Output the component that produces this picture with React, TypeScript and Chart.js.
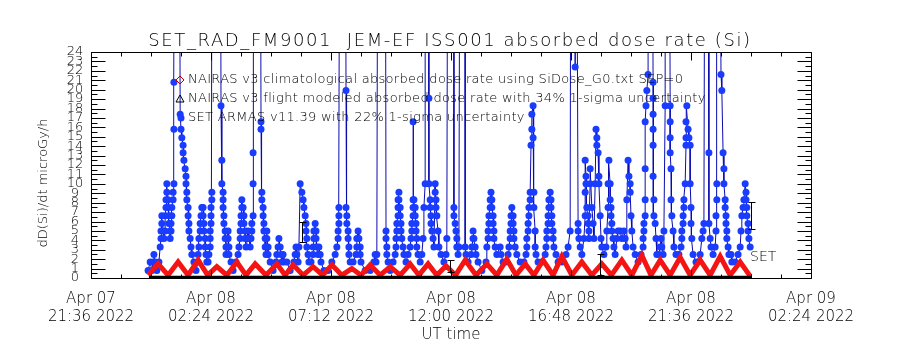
import React, { useEffect, useRef } from 'react';
import { Chart, registerables } from 'chart.js';
Chart.register(...registerables);

const titleText = 'SET_RAD_FM9001  JEM-EF ISS001 absorbed dose rate (Si)';
const yTitle = 'dD(Si)/dt microGy/h';
const xTitle = 'UT time';
const legendLabels = [
  'NAIRAS v3 climatological absorbed dose rate using SiDose_G0.txt SEP=0',
  'NAIRAS v3 flight modeled absorbed dose rate with 34% 1-sigma uncertainty',
  'SET ARMAS v11.39 with 22% 1-sigma uncertainty',
];
const setLabel = 'SET';

// x unit: minutes since 2022-04-08 00:00 UT
const xMin = -144;
const xMax = 1584;
const xTickMinutes = [-144, 144, 432, 720, 1008, 1296, 1584];
const xTickDay = ['Apr 07', 'Apr 08', 'Apr 08', 'Apr 08', 'Apr 08', 'Apr 08', 'Apr 09'];
const xTickTime = ['21:36 2022', '02:24 2022', '07:12 2022', '12:00 2022', '16:48 2022', '21:36 2022', '02:24 2022'];
const yTickValues = [0, 1, 2, 3, 4, 5, 6, 7, 8, 9, 10, 11, 12, 13, 14, 15, 16, 17, 18, 19, 20, 21, 22, 23, 24];

// SET ARMAS dose rate [minute, microGy/h]
const armas: [number, number][] = [
  [-7,0.8],[-2,1.7],[2,0.8],[5,1.7],[7,2.5],[10,1.7],[14,0.8],[19,1.7],[22,3.3],[24,4.2],[24,5.0],[26,5.8],[26,6.6],[29,5.0],[31,4.2],[34,5.0],[34,6.6],[36,7.5],[36,8.3],[38,9.1],[38,10.0],[41,8.3],[41,7.5],[43,6.6],[43,5.8],[46,5.0],[46,4.2],[48,5.0],[48,5.8],[50,6.6],[50,7.5],[53,8.3],[53,9.1],[55,10.0],[55,15.8],[55,20.8],[58,60],[67,60],[70,17.4],[72,15.8],[74,14.9],[77,14.1],[77,13.3],[79,12.5],[82,11.6],[84,10.8],[84,10.0],[86,9.1],[86,8.3],[89,7.5],[89,6.6],[91,5.8],[91,5.0],[94,4.2],[96,3.3],[98,2.5],[103,1.7],[108,0.8],
  [113,1.7],[113,2.5],[115,3.3],[115,4.2],[118,5.0],[118,5.8],[120,6.6],[122,7.5],[125,7.5],[125,6.6],[127,5.8],[127,5.0],[130,4.2],[130,3.3],[132,2.5],[134,1.7],[137,1.7],[139,2.5],[142,3.3],[142,4.2],[142,5.0],[144,5.8],[144,6.6],[144,7.5],[146,8.3],[146,9.1],[147,60],[166,60],[168,18.3],[170,12.5],[170,10.0],[173,9.1],[173,8.3],[173,7.5],[175,6.6],[175,5.8],[178,5.0],[178,4.2],[180,3.3],[180,2.5],[182,3.3],[185,5.0],[185,4.2],[187,3.3],[187,2.5],[192,1.7],[197,0.8],
  [204,1.7],[209,2.5],[211,3.3],[214,4.2],[214,5.0],[216,5.8],[216,6.6],[218,7.5],[218,8.3],[221,7.5],[223,6.6],[223,5.8],[226,5.0],[226,4.2],[228,3.3],[230,4.2],[233,5.0],[235,4.2],[238,3.3],[240,4.2],[242,5.0],[242,5.8],[245,6.6],[245,10.0],[245,13.3],[247,60],[262,60],[264,16.6],[264,15.8],[266,9.1],[266,8.3],[269,7.5],[269,6.6],[271,5.8],[271,5.0],[274,4.2],[274,3.3],[276,2.5],[278,5.0],[278,4.2],[281,3.3],[281,2.5],[286,1.7],[293,0.8],
  [300,1.7],[302,2.5],[305,3.3],[307,4.2],[310,3.3],[312,2.5],[314,1.7],[317,2.5],[319,1.7],[326,1.7],[334,0.8],[343,1.7],[346,2.5],[348,3.3],[350,2.5],[353,1.7],[355,3.3],[358,10.0],[362,9.1],[365,8.3],[367,7.5],[370,6.6],[372,5.8],[372,5.0],[374,4.2],[374,3.3],[377,2.5],[379,1.7],[384,1.7],[389,2.5],[389,3.3],[391,4.2],[391,5.0],[394,5.8],[396,5.0],[396,4.2],[398,3.3],[401,2.5],[403,3.3],[406,2.5],[408,1.7],[415,0.8],[425,0.8],
  [434,1.7],[442,2.5],[446,3.3],[449,4.2],[449,5.0],[451,5.8],[451,6.6],[451,7.5],[454,60],[466,60],[468,19.9],[468,7.5],[470,6.6],[470,5.8],[473,5.0],[473,4.2],[475,3.3],[475,2.5],[478,1.7],[485,1.7],[492,2.5],[494,3.3],[494,4.2],[497,5.0],[499,4.2],[502,3.3],[502,2.5],[504,1.7],[514,0.8],[526,0.8],
  [535,1.7],[538,2.5],[540,1.7],[542,2.5],[545,60],[562,60],[564,5.0],[564,4.2],[566,3.3],[566,2.5],[569,1.7],[574,0.8],[581,1.7],[586,2.5],[588,3.3],[588,4.2],[590,5.0],[590,5.8],[593,6.6],[593,7.5],[593,8.3],[595,9.1],[595,8.3],[598,7.5],[598,6.6],[600,5.8],[600,5.0],[602,4.2],[605,3.3],[607,2.5],[612,1.7],[617,2.5],[622,3.3],[624,4.2],[626,5.0],[626,5.8],[629,6.6],[629,7.5],[629,8.3],[629,16.6],[631,8.3],[634,7.5],[634,6.6],[636,5.8],[636,5.0],[638,4.2],[638,3.3],[641,2.5],[646,1.7],
  [650,2.5],[653,4.2],[655,7.5],[658,10.0],[658,60],[665,60],[667,19.1],[667,10.0],[670,8.3],[670,7.5],[672,6.6],[672,5.8],[674,5.0],[677,4.2],[679,3.3],[682,10.0],[682,9.1],[684,8.3],[684,7.5],[686,6.6],[689,5.0],[691,3.3],[696,2.5],[703,1.7],[708,2.5],[710,4.2],[713,60],[727,60],[727,7.5],[727,6.6],[730,5.8],[732,5.0],[734,4.2],[734,3.3],[737,2.5],[739,3.3],[742,60],[754,60],[754,3.3],[756,2.5],[761,1.7],
  [768,2.5],[770,3.3],[773,4.2],[773,5.0],[775,4.2],[778,3.3],[780,2.5],[785,1.7],[794,0.8],[804,1.7],[806,3.3],[809,4.2],[809,5.0],[811,5.8],[811,6.6],[814,7.5],[814,8.3],[816,9.1],[818,8.3],[818,7.5],[821,6.6],[821,5.8],[823,5.0],[823,4.2],[826,3.3],[830,2.5],[838,3.3],[840,2.5],[845,1.7],[852,1.7],[857,2.5],[859,3.3],[862,4.2],[862,5.0],[864,5.8],[864,6.6],[866,7.5],[869,6.6],[869,5.8],[871,5.0],[871,4.2],[874,3.3],[878,2.5],[886,1.7],[895,1.7],[900,2.5],[902,3.3],[902,4.2],[905,5.0],[905,5.8],[907,6.6],[907,7.5],[910,8.3],[910,9.1],[912,14.1],[914,15.8],[914,17.4],[917,18.3],[917,14.9],[919,9.1],[919,7.5],[922,5.0],[922,3.3],[924,2.5],[929,1.7],
  [938,1.7],[946,2.5],[948,3.3],[950,4.2],[950,5.0],[953,5.8],[953,6.6],[955,7.5],[955,8.3],[958,9.1],[960,8.3],[960,7.5],[962,6.6],[962,5.8],[965,5.0],[965,4.2],[967,3.3],[972,2.5],[977,1.7],[986,1.7],[996,2.5],[1001,3.3],[1006,5.0],[1008,60],[1015,60],[1018,22.4],[1020,60],[1022,60],[1025,5.8],[1025,5.0],[1027,4.2],[1030,3.3],[1034,2.5],[1039,4.2],[1042,6.6],[1042,9.1],[1042,12.5],[1044,10.8],[1044,10.0],[1046,7.5],[1049,6.6],[1049,5.8],[1051,5.0],[1051,4.2],[1054,10.0],[1054,11.6],[1058,7.5],[1061,5.8],[1063,4.2],[1066,10.0],[1068,15.8],[1070,14.9],[1070,14.1],[1073,13.3],[1075,10.8],[1075,10.0],[1078,6.6],[1080,4.2],[1082,3.3],
  [1087,2.5],[1092,3.3],[1094,5.0],[1097,7.5],[1097,10.0],[1099,12.5],[1102,10.0],[1102,8.3],[1104,7.5],[1104,6.6],[1106,5.8],[1106,5.0],[1109,4.2],[1111,3.3],[1114,2.5],[1118,4.2],[1121,5.0],[1126,5.0],[1130,4.2],[1135,5.0],[1138,4.2],[1140,3.3],[1142,8.3],[1145,12.5],[1147,10.8],[1150,10.0],[1150,9.1],[1152,6.6],[1154,5.0],[1157,3.3],[1162,2.5],[1169,1.7],
  [1176,2.5],[1181,3.3],[1181,4.2],[1183,5.0],[1183,5.8],[1186,6.6],[1186,8.3],[1186,11.6],[1186,16.6],[1188,18.3],[1190,19.9],[1193,21.6],[1193,60],[1202,60],[1205,20.8],[1205,19.1],[1205,17.4],[1205,15.8],[1205,14.1],[1205,10.8],[1207,8.3],[1207,6.6],[1210,5.8],[1212,4.2],[1214,2.5],[1219,2.5],[1222,3.3],[1224,4.2],[1226,3.3],[1229,2.5],[1231,5.0],[1234,18.3],[1234,60],[1243,60],[1246,18.3],[1246,16.6],[1246,14.9],[1246,13.3],[1248,11.6],[1248,8.3],[1250,6.6],[1253,5.0],[1255,3.3],[1260,2.5],[1267,2.5],[1272,3.3],[1274,4.2],[1274,5.0],[1277,5.8],[1277,6.6],[1279,7.5],[1279,8.3],[1282,10.0],[1284,14.1],[1284,14.9],[1284,16.6],[1286,18.3],[1289,15.8],[1291,14.9],[1294,14.1],[1294,10.0],[1296,7.5],[1296,5.8],[1298,4.2],[1301,2.5],[1308,1.7],
  [1318,2.5],[1322,4.2],[1325,5.0],[1327,5.8],[1330,60],[1337,60],[1339,13.3],[1339,5.8],[1342,4.2],[1344,3.3],[1349,2.5],[1354,3.3],[1356,5.0],[1356,6.6],[1358,8.3],[1358,10.0],[1358,60],[1363,60],[1368,21.6],[1370,19.9],[1373,13.3],[1375,11.6],[1375,10.0],[1378,8.3],[1378,7.5],[1380,6.6],[1380,5.8],[1382,5.0],[1382,4.2],[1385,3.3],[1387,2.5],[1392,2.5],[1394,1.7],[1402,1.7],[1409,2.5],[1414,3.3],[1416,5.0],[1418,6.6],[1421,7.5],[1423,8.3],[1426,10.0],[1428,9.1],[1428,8.3],[1430,7.5],[1430,6.6],[1433,5.8],[1433,5.0],[1435,4.2],[1438,3.3],
];

// NAIRAS v3 climatological (peaks and troughs)
const climMinute = [-7,17,41,65,89,113,136,158,182,206,228,250,276,302,322,341,365,389,412,434,458,482,504,526,550,574,598,622,643,665,686,708,731,754,780,806,830,854,876,898,919,941,965,986,1010,1034,1058,1082,1105,1130,1154,1178,1200,1222,1246,1270,1294,1318,1342,1366,1390,1414,1438];
const climDose = [0.3,1.5,0.3,1.7,0.3,1.9,0.3,1.2,0.3,1.7,0.3,1.5,0.3,1.5,0.3,1.4,0.3,1.2,0.3,1.4,0.3,1.0,0.3,1.4,0.3,1.2,0.3,1.5,0.3,1.5,0.3,1.3,0.3,1.9,0.3,1.5,0.3,2.0,0.3,1.5,0.3,1.9,0.3,2.3,0.3,1.7,0.3,1.5,0.3,1.9,0.3,2.4,0.3,1.9,0.3,2.2,0.3,1.9,0.3,2.3,0.3,1.7,0.2];

// NAIRAS v3 flight modeled
const flightMinute = [-5, 1440];
const flightDose = [0.08, 0.08];

// 1-sigma error bars
const errMinute = [362, 718, 1078, 1440];
const errLow = [3.8, 0.6, 0.3, 5.2];
const errHigh = [5.9, 1.9, 2.5, 8.1];

const FONT = '"DejaVu Sans", sans-serif';

const decorPlugin = {
  id: 'decor',
  afterDatasetsDraw(chart: any) {
    const { ctx, chartArea: a, scales } = chart;
    const x = scales.x;
    const y = scales.y;
    ctx.save();
    ctx.strokeStyle = '#000';
    ctx.fillStyle = '#000';
    ctx.lineWidth = 1;
    // error bars
    errMinute.forEach((m, i) => {
      const px = Math.round(x.getPixelForValue(m)) + 0.5;
      const y1 = Math.round(y.getPixelForValue(errLow[i])) + 0.5;
      const y2 = Math.round(y.getPixelForValue(errHigh[i])) + 0.5;
      ctx.beginPath();
      ctx.moveTo(px, y1); ctx.lineTo(px, y2);
      ctx.moveTo(px - 3, y1); ctx.lineTo(px + 4, y1);
      ctx.moveTo(px - 3, y2); ctx.lineTo(px + 4, y2);
      ctx.stroke();
    });
    // frame
    const L = Math.round(a.left) + 0.5, R = Math.round(a.right) + 0.5;
    const T = Math.round(a.top) + 0.5, B = Math.round(a.bottom) + 0.5;
    ctx.beginPath();
    ctx.rect(L, T, R - L, B - T);
    ctx.stroke();
    // y ticks
    ctx.beginPath();
    yTickValues.forEach((v, i) => {
      const py = Math.round(y.getPixelForValue(v)) + 0.5;
      ctx.moveTo(L, py); ctx.lineTo(L + 14, py);
      ctx.moveTo(R, py); ctx.lineTo(R - 14, py);
      if (i < yTickValues.length - 1) {
        const pm = Math.round(y.getPixelForValue((v + yTickValues[i + 1]) / 2)) + 0.5;
        ctx.moveTo(L, pm); ctx.lineTo(L + 6, pm);
        ctx.moveTo(R, pm); ctx.lineTo(R - 6, pm);
      }
    });
    // x ticks
    xTickMinutes.forEach((m, i) => {
      const px = Math.round(x.getPixelForValue(m)) + 0.5;
      ctx.moveTo(px, B); ctx.lineTo(px, B - 8);
      ctx.moveTo(px, T); ctx.lineTo(px, T + 8);
      if (i < xTickMinutes.length - 1) {
        const step = (xTickMinutes[i + 1] - m) / 4;
        for (let k = 1; k < 4; k++) {
          const pq = Math.round(x.getPixelForValue(m + k * step)) + 0.5;
          ctx.moveTo(pq, B); ctx.lineTo(pq, B - 4);
          ctx.moveTo(pq, T); ctx.lineTo(pq, T + 4);
        }
      }
    });
    ctx.stroke();
    // y tick labels
    ctx.font = '300 13px ' + FONT;
    ctx.textAlign = 'center';
    ctx.textBaseline = 'middle';
    yTickValues.forEach((v) => {
      ctx.fillText(String(v), 75, y.getPixelForValue(v));
    });
    // x tick labels
    ctx.font = '300 15px ' + FONT;
    ctx.textBaseline = 'alphabetic';
    xTickMinutes.forEach((m, i) => {
      const px = x.getPixelForValue(m);
      ctx.fillText(xTickDay[i], px, 303);
      ctx.fillText(xTickTime[i], px, 321);
    });
    ctx.fillText(xTitle, (a.left + a.right) / 2, 339);
    // title
    ctx.font = '300 18px ' + FONT;
    (ctx as any).letterSpacing = '1.6px';
    ctx.fillText(titleText, 450, 46);
    (ctx as any).letterSpacing = '0px';
    // y title
    ctx.save();
    ctx.translate(44, 183);
    ctx.rotate(-Math.PI / 2);
    ctx.font = '300 13px ' + FONT;
    ctx.textBaseline = 'middle';
    ctx.fillText(yTitle, 0, 0);
    ctx.restore();
    // legend
    ctx.font = '300 13px ' + FONT;
    (ctx as any).letterSpacing = '0.3px';
    ctx.textAlign = 'left';
    ctx.textBaseline = 'middle';
    const ly = [80, 99, 118];
    legendLabels.forEach((t, i) => ctx.fillText(t, 188, ly[i]));
    (ctx as any).letterSpacing = '0px';
    ctx.strokeStyle = '#c00000';
    ctx.beginPath();
    ctx.moveTo(180, ly[0] - 4); ctx.lineTo(184, ly[0]); ctx.lineTo(180, ly[0] + 4); ctx.lineTo(176, ly[0]); ctx.closePath();
    ctx.stroke();
    ctx.strokeStyle = '#000';
    ctx.beginPath();
    ctx.moveTo(180, ly[1] - 4); ctx.lineTo(184, ly[1] + 3); ctx.lineTo(176, ly[1] + 3); ctx.closePath();
    ctx.stroke();
    ctx.fillStyle = '#1a3cff';
    ctx.beginPath();
    ctx.arc(181, ly[2], 3.5, 0, Math.PI * 2);
    ctx.fill();
    // SET label
    ctx.fillStyle = '#000';
    ctx.font = '300 14px ' + FONT;
    ctx.fillText(setLabel, x.getPixelForValue(errMinute[3]) - 1, 257);
    ctx.restore();
  },
};

export default function App() {
  const ref = useRef<HTMLCanvasElement | null>(null);
  useEffect(() => {
    document.body.style.margin = '0';
    const canvas = ref.current;
    if (!canvas) return;
    const chart = new Chart(canvas, {
      type: 'line',
      data: {
        datasets: [
          {
            label: 'flight',
            data: flightMinute.map((m, i) => ({ x: m, y: flightDose[i] })),
            borderColor: '#000000',
            borderWidth: 3,
            pointRadius: 0,
            order: 0,
          },
          {
            label: 'clim',
            data: climMinute.map((m, i) => ({ x: m, y: climDose[i] })),
            borderColor: '#f41414',
            borderWidth: 5,
            pointRadius: 0,
            order: 1,
          },
          {
            label: 'armas',
            data: armas.map(([m, v]) => ({ x: m, y: v })),
            borderColor: '#0b0bb0',
            borderWidth: 1,
            pointRadius: 3.5,
            pointBackgroundColor: '#1a3cff',
            pointBorderWidth: 0,
            order: 2,
          },
        ],
      },
      options: {
        responsive: false,
        animation: false,
        devicePixelRatio: 1,
        layout: { padding: { left: 91, right: 89, top: 52, bottom: 72 } },
        plugins: { legend: { display: false }, tooltip: { enabled: false }, title: { display: false } },
        scales: {
          x: { type: 'linear', min: xMin, max: xMax, display: false },
          y: { type: 'linear', min: 0, max: 24, display: false },
        },
      },
      plugins: [decorPlugin],
    });
    return () => chart.destroy();
  }, []);
  return (
    <div style={{ width: 900, height: 350, background: '#fff' }}>
      <canvas ref={ref} width={900} height={350} style={{ display: 'block' }} />
    </div>
  );
}
